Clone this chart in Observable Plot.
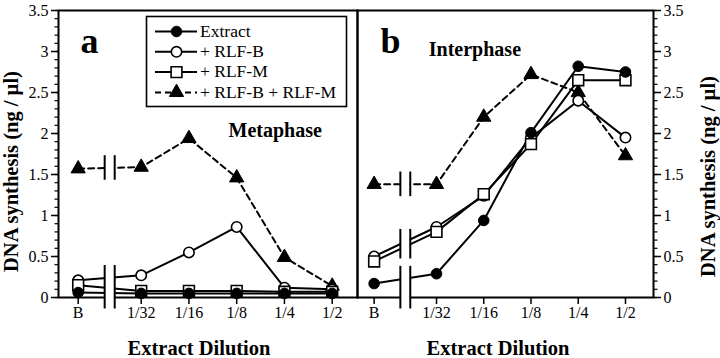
<!DOCTYPE html>
<html>
<head>
<meta charset="utf-8">
<script src="https://cdn.jsdelivr.net/npm/d3@7"></script>
<script src="https://cdn.jsdelivr.net/npm/@observablehq/plot@0.6"></script>
<style>
html,body{margin:0;padding:0;background:#fff;}
#fig{position:relative;width:720px;height:358px;overflow:hidden;background:#fff;font-family:"Liberation Serif","Times New Roman",serif;}
#fig > svg{position:absolute;top:0;}
</style>
</head>
<body>
<div id="fig"></div>
<script>
// ---------- data ----------
const dilutions = ["B", "1/32", "1/16", "1/8", "1/4", "1/2"];
const seriesNames = ["Extract", "+ RLF-B", "+ RLF-M", "+ RLF-B + RLF-M"];

// Panel a: Metaphase
const metaExtract = [0.06, 0.05, 0.05, 0.05, 0.05, 0.05];
const metaRlfB    = [0.21, 0.27, 0.55, 0.86, 0.12, 0.10];
const metaRlfM    = [0.15, 0.08, 0.08, 0.08, 0.07, 0.07];
const metaBoth    = [1.57, 1.59, 1.94, 1.46, 0.49, 0.14];

// Panel b: Interphase
const interExtract = [0.17, 0.29, 0.94, 2.01, 2.82, 2.75];
const interRlfB    = [0.50, 0.86, 1.24, 1.95, 2.40, 1.95];
const interRlfM    = [0.44, 0.80, 1.26, 1.87, 2.65, 2.65];
const interBoth    = [1.38, 1.38, 2.20, 2.72, 2.50, 1.73];

const yTicks = [0, 0.5, 1, 1.5, 2, 2.5, 3, 3.5];
const yLabel = "DNA synthesis (ng / µl)";
const xLabel = "Extract Dilution";

// ---------- layout helpers ----------
const FONT = '"Liberation Serif", "Times New Roman", serif';
const breakOffset = 1.32;           // distance of buffer point "B" left of 1/32 on the broken axis
const halfGap = 0.105;              // half width of the axis break
const pos = d => {
  if (d === "B") return Math.log2(1 / 32) - breakOffset;
  const [n, m] = d.split("/").map(Number);
  return Math.log2(n / m);
};
const labelOf = new Map(dilutions.map(d => [pos(d), d]));
const minorTicks = d3.range(0, 36).map(i => i / 10);
const breakX = (pos("B") + pos("1/32")) / 2;

const markerStyles = [
  {symbol: "circle", r: 5.3, fill: "black", stroke: "black", strokeWidth: 1},
  {symbol: "circle", r: 5.2, fill: "white", stroke: "black", strokeWidth: 1.6},
  {symbol: "square", r: 6.1, fill: "white", stroke: "black", strokeWidth: 1.6},
  {symbol: "triangle", r: 5.3, fill: "black", stroke: "black", strokeWidth: 1}
];
const drawOrder = [3, 1, 2, 0];

function records(arrs) {
  return arrs.flatMap((vals, s) => vals.map((v, i) => ({series: seriesNames[s], x: pos(dilutions[i]), y: v})));
}

function breakSpans(arrs) {
  const mids = arrs.map(v => (v[0] + v[1]) / 2).sort((a, b) => a - b);
  const spans = [];
  let cur = [mids[0], mids[0]];
  for (const m of mids.slice(1)) {
    if (m - cur[1] < 0.3) cur[1] = m; else { spans.push(cur); cur = [m, m]; }
  }
  spans.push(cur);
  return spans.flatMap(([lo, hi]) => {
    const y1 = lo < 0.3 ? -0.14 : lo - 0.15;
    const y2 = hi + 0.15;
    return [-1, 1].map(s => ({x: breakX + s * halfGap, y1, y2}));
  });
}

function panel(cfg) {
  const data = records(cfg.values);
  const marks = [
    Plot.frame({stroke: "black", strokeWidth: 2}),
    Plot.line(data.filter(d => d.series !== seriesNames[3]), {x: "x", y: "y", z: "series", stroke: "black", strokeWidth: 2}),
    Plot.line(data.filter(d => d.series === seriesNames[3]), {x: "x", y: "y", stroke: "black", strokeWidth: 2, strokeDasharray: "6,4"}),
    Plot.rect([{x1: breakX - halfGap, x2: breakX + halfGap, y1: -0.14, y2: 3.4}], {x1: "x1", x2: "x2", y1: "y1", y2: "y2", fill: "white"}),
    Plot.ruleX(breakSpans(cfg.values), {x: "x", y1: "y1", y2: "y2", stroke: "black", strokeWidth: 2}),
    Plot.axisX({ticks: dilutions.map(pos), tickFormat: d => labelOf.get(d), tickSize: 7, tickPadding: 2, strokeWidth: 1.5, label: null}),
    Plot.axisY({anchor: cfg.side, ticks: yTicks, tickSize: 7, tickPadding: 3, tickFormat: d => String(d), strokeWidth: 1.5, label: null}),
    Plot.axisY({anchor: cfg.side, ticks: minorTicks, tickSize: 3.5, tickFormat: () => "", strokeWidth: 1.2, label: null}),
    ...drawOrder.map(s => Plot.dot(data.filter(d => d.series === seriesNames[s]), {x: "x", y: "y", ...markerStyles[s]})),
    Plot.text([cfg.tag], {text: d => d, frameAnchor: "top-left", dx: cfg.tagDx, dy: 42, textAnchor: "start", lineAnchor: "bottom", fontSize: 36, fontWeight: "bold"}),
    Plot.text([cfg.phase], {text: d => d, frameAnchor: "top-left", dx: cfg.phaseDx, dy: cfg.phaseDy, textAnchor: "start", lineAnchor: "bottom", fontSize: 20, fontWeight: "bold"}),
    Plot.text([xLabel], {text: d => d, frameAnchor: "bottom", dx: cfg.xLabelDx, dy: 51, textAnchor: "middle", lineAnchor: "middle", fontSize: 20.5, fontWeight: "bold"}),
    Plot.text([yLabel], {text: d => d, frameAnchor: cfg.side, rotate: -90, dx: cfg.yLabelDx, dy: cfg.yLabelDy, textAnchor: "middle", lineAnchor: "middle", fontSize: 20.5, fontWeight: "bold"})
  ];
  const svg = Plot.plot({
    width: cfg.width,
    height: 358,
    marginTop: 10,
    marginBottom: 61,
    marginLeft: cfg.marginLeft,
    marginRight: cfg.marginRight,
    x: {type: "linear", domain: cfg.domain},
    y: {type: "linear", domain: [0, 3.5]},
    style: {fontFamily: FONT, fontSize: "16px", color: "black", background: "transparent", overflow: "visible"},
    marks
  });
  svg.style.left = cfg.left + "px";
  return svg;
}

const fig = document.getElementById("fig");
fig.appendChild(panel({
  values: [metaExtract, metaRlfB, metaRlfM, metaBoth],
  left: 0, width: 357, marginLeft: 58, marginRight: 0,
  domain: [-6.732, -0.470], side: "left",
  tag: "a", tagDx: 22, phase: "Metaphase", phaseDx: 170, phaseDy: 126.7,
  xLabelDx: -9, yLabelDx: -47, yLabelDy: 17.5
}));
fig.appendChild(panel({
  values: [interExtract, interRlfB, interRlfM, interBoth],
  left: 357, width: 363, marginLeft: 0, marginRight: 67,
  domain: [-6.672, -0.407], side: "right",
  tag: "b", tagDx: 23, phase: "Interphase", phaseDx: 71.3, phaseDy: 45,
  xLabelDx: -7.5, yLabelDx: 55, yLabelDy: 22.5
}));

// ---------- legend ----------
const lg = d3.create("svg")
  .attr("width", 203).attr("height", 93)
  .style("position", "absolute").style("left", "145px").style("top", "15px");
lg.append("rect").attr("x", 1.5).attr("y", 1.5).attr("width", 200).attr("height", 90)
  .attr("fill", "white").attr("stroke", "black").attr("stroke-width", 1.6);
seriesNames.forEach((name, s) => {
  const cy = 16.5 + s * 20.3;
  const g = lg.append("g");
  g.append("line").attr("x1", 10).attr("x2", 52).attr("y1", cy).attr("y2", cy)
    .attr("stroke", "black").attr("stroke-width", 2)
    .attr("stroke-dasharray", s === 3 ? "6,4" : null);
  const st = markerStyles[s];
  const sym = st.symbol === "square" ? d3.symbolSquare : st.symbol === "triangle" ? d3.symbolTriangle : d3.symbolCircle;
  g.append("path").attr("transform", `translate(31.5,${cy})`)
    .attr("d", d3.symbol(sym, Math.PI * st.r * st.r)())
    .attr("fill", st.fill).attr("stroke", st.stroke).attr("stroke-width", st.strokeWidth);
  g.append("text").attr("x", 55).attr("y", cy).attr("dy", "0.3em")
    .attr("font-family", FONT).attr("font-size", 17.5).text(name);
});
fig.appendChild(lg.node());
</script>
</body>
</html>
